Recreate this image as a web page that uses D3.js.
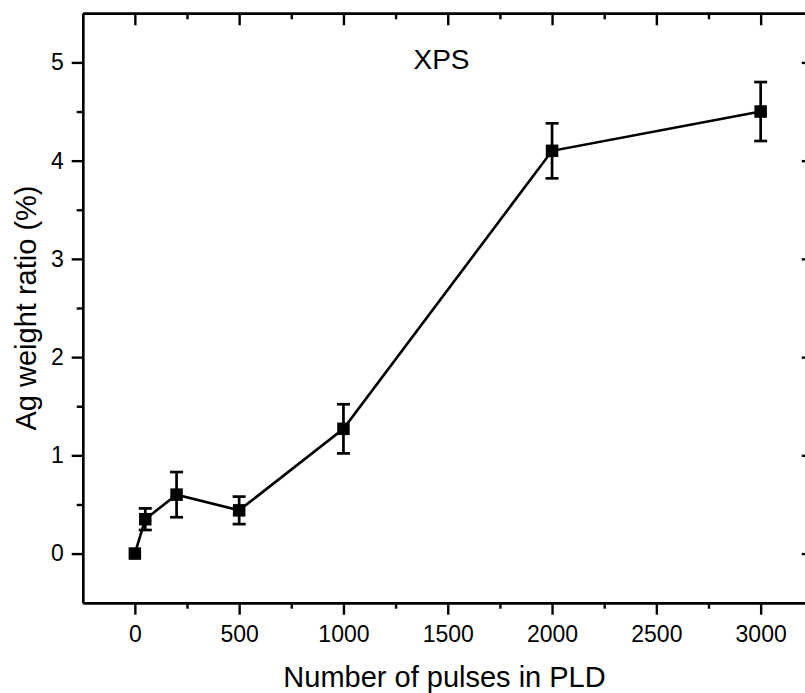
<!DOCTYPE html>
<html>
<head>
<meta charset="utf-8">
<script src="https://cdn.jsdelivr.net/npm/d3@7"></script>
<style>
  html, body { margin: 0; padding: 0; background: #fff; }
  svg { display: block; }
  text { font-family: "Liberation Sans", Arial, sans-serif; fill: #000; }
</style>
</head>
<body>
<svg id="chart" width="805" height="693"></svg>
<script>
// ---- data ----
const pulses = [0, 50, 200, 500, 1000, 2000, 3000];
const agRatio = [0, 0.35, 0.60, 0.44, 1.27, 4.10, 4.50];
const agError = [0, 0.11, 0.23, 0.14, 0.25, 0.28, 0.30];
const xTicks = [0, 500, 1000, 1500, 2000, 2500, 3000];
const xMinorTicks = [250, 750, 1250, 1750, 2250, 2750];
const yTicks = [0, 1, 2, 3, 4, 5];
const yMinorTicks = [0.5, 1.5, 2.5, 3.5, 4.5];
const xTitle = "Number of pulses in PLD";
const yTitle = "Ag weight ratio (%)";
const panelLabel = "XPS";

// ---- layout ----
const mLeft = 82.7, mRight = 812.8, mTop = 13.3, mBottom = 602.7;
const svg = d3.select("#chart");

const x = d3.scaleLinear().domain([-250, 3250]).range([mLeft, mRight]);
const y = d3.scaleLinear().domain([-0.5, 5.5]).range([mBottom, mTop]);

function styleAxis(g) {
  g.selectAll("path.domain").attr("stroke", "#000").attr("stroke-width", 2.4);
  g.selectAll(".tick line").attr("stroke", "#000").attr("stroke-width", 2.4);
  g.selectAll(".tick text")
    .style("font-family", '"Liberation Sans", Arial, sans-serif')
    .style("font-size", "23px").attr("fill", "#000");
}

// bottom axis
const gB = svg.append("g").attr("transform", `translate(0,${mBottom})`)
  .call(d3.axisBottom(x).tickValues(xTicks).tickSize(12).tickSizeOuter(0).tickPadding(11).tickFormat(d3.format("d")));
styleAxis(gB);
const gBm = svg.append("g").attr("transform", `translate(0,${mBottom})`)
  .call(d3.axisBottom(x).tickValues(xMinorTicks).tickSize(6).tickSizeOuter(0).tickFormat(""));
styleAxis(gBm);

// top axis (mirror, inward)
const gT = svg.append("g").attr("transform", `translate(0,${mTop})`)
  .call(d3.axisTop(x).tickValues(xTicks).tickSize(-12).tickSizeOuter(0).tickFormat(""));
styleAxis(gT);
const gTm = svg.append("g").attr("transform", `translate(0,${mTop})`)
  .call(d3.axisTop(x).tickValues(xMinorTicks).tickSize(-6).tickSizeOuter(0).tickFormat(""));
styleAxis(gTm);

// left axis
const gL = svg.append("g").attr("transform", `translate(${mLeft},0)`)
  .call(d3.axisLeft(y).tickValues(yTicks).tickSize(11).tickSizeOuter(0).tickPadding(8).tickFormat(d3.format("d")));
styleAxis(gL);
const gLm = svg.append("g").attr("transform", `translate(${mLeft},0)`)
  .call(d3.axisLeft(y).tickValues(yMinorTicks).tickSize(6).tickSizeOuter(0).tickFormat(""));
styleAxis(gLm);

// right axis (mirror, inward)
const gR = svg.append("g").attr("transform", `translate(${mRight},0)`)
  .call(d3.axisRight(y).tickValues(yTicks).tickSize(-11).tickSizeOuter(0).tickFormat(""));
styleAxis(gR);
const gRm = svg.append("g").attr("transform", `translate(${mRight},0)`)
  .call(d3.axisRight(y).tickValues(yMinorTicks).tickSize(-6).tickSizeOuter(0).tickFormat(""));
styleAxis(gRm);

// ---- marks ----
const data = pulses.map((p, i) => ({ p, v: agRatio[i], e: agError[i] }));

// line
svg.append("path")
  .datum(data)
  .attr("fill", "none")
  .attr("stroke", "#000")
  .attr("stroke-width", 2.6)
  .attr("d", d3.line().x(d => x(d.p)).y(d => y(d.v)));

// error bars
const capW = 13;
const eb = svg.append("g").attr("stroke", "#000").attr("stroke-width", 2.7);
data.filter(d => d.e > 0).forEach(d => {
  const cx = x(d.p);
  eb.append("line").attr("x1", cx).attr("x2", cx).attr("y1", y(d.v - d.e)).attr("y2", y(d.v + d.e));
  eb.append("line").attr("x1", cx - capW / 2).attr("x2", cx + capW / 2).attr("y1", y(d.v + d.e)).attr("y2", y(d.v + d.e));
  eb.append("line").attr("x1", cx - capW / 2).attr("x2", cx + capW / 2).attr("y1", y(d.v - d.e)).attr("y2", y(d.v - d.e));
});

// markers
const ms = 12.5;
svg.append("g").selectAll("rect").data(data).join("rect")
  .attr("x", d => x(d.p) - ms / 2)
  .attr("y", d => y(d.v) - ms / 2)
  .attr("width", ms).attr("height", ms)
  .attr("fill", "#000");

// titles
svg.append("text")
  .attr("x", 444.5).attr("y", 686.5)
  .attr("text-anchor", "middle")
  .style("font-size", "29px")
  .text(xTitle);

svg.append("text")
  .attr("transform", `translate(36,${(mTop + mBottom) / 2}) rotate(-90)`)
  .attr("text-anchor", "middle")
  .style("font-size", "29px")
  .text(yTitle);

svg.append("text")
  .attr("x", 441.5).attr("y", 68.5)
  .attr("text-anchor", "middle")
  .style("font-size", "28px")
  .text(panelLabel);
</script>
</body>
</html>
